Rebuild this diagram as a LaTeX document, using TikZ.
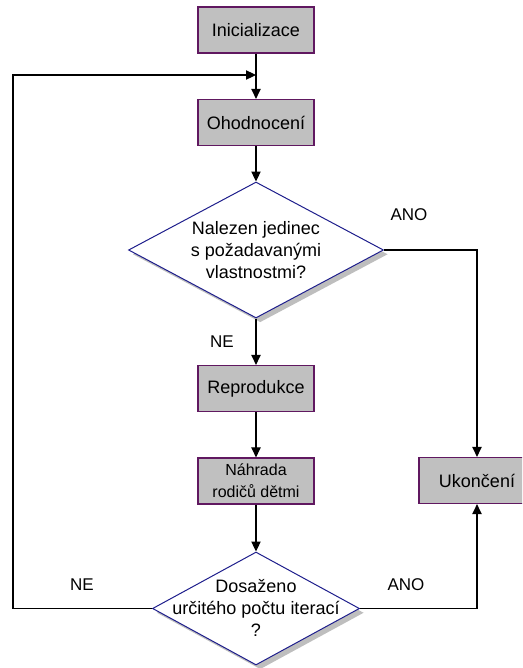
\documentclass[tikz,border=0pt]{standalone}
\usepackage{fontspec}
\setmainfont{Liberation Sans}
\usetikzlibrary{shapes.geometric,arrows.meta,shadows}
\definecolor{boxborder}{RGB}{96,24,96}
\definecolor{boxfill}{RGB}{192,192,192}
\definecolor{diaborder}{RGB}{30,30,140}
\definecolor{shadowgray}{RGB}{190,190,190}
\tikzset{
  procbox/.style={rectangle, draw=boxborder, fill=boxfill, line width=0.9pt,
    minimum width=87pt, minimum height=34.5pt, inner sep=0pt, align=center,
    font=\fontsize{13.5}{16.5}\selectfont},
  decision/.style={diamond, draw=diaborder, fill=white, line width=0.75pt,
    inner sep=0pt,
    drop shadow={shadow xshift=3.2pt, shadow yshift=-3.2pt, fill=shadowgray, opacity=1}},
  dectext/.style={align=center, inner sep=0pt, font=\fontsize{13.5}{16.5}\selectfont},
  lbl/.style={inner sep=0pt, font=\fontsize{12.75}{15}\selectfont},
  conn/.style={line width=0.8pt, draw=black},
  arr/.style={conn, -{Triangle[length=7.5pt,width=7pt]}},
}
\begin{document}
\begin{tikzpicture}[x=0.75pt,y=-0.75pt]
\useasboundingbox (0,0) rectangle (522,668);
\clip (0,0) rectangle (522,668);
\node[procbox] (init) at (256,30) {Inicializace};
\node[procbox] (eval) at (256,122.5) {Ohodnocení};
\node[decision, minimum width=191.25pt, minimum height=102pt] (dec1) at (256,250) {};
\node[dectext] (dec1t) at (256,250) {Nalezen jedinec\\s požadavanými\\vlastnostmi?};
\node[procbox] (repro) at (256,388.5) {Reprodukce};
\node[procbox, font=\fontsize{12}{16.5}\selectfont] (repl) at (256,481) {Náhrada\\rodičů dětmi};
\node[decision, minimum width=155.25pt, minimum height=84.75pt] (dec2) at (256,608.5) {};
\node[dectext, font=\fontsize{13.5}{16.2}\selectfont] (dec2t) at (256,608) {Dosaženo\\určitého počtu iterací\\?};
\node[procbox] (end) at (477,480.5) {Ukončení};

\node[lbl] (ano1) at (409,215) {ANO};
\node[lbl] (ne1) at (222,342) {NE};
\node[lbl] (ano2) at (406,585) {ANO};
\node[lbl] (ne2) at (82,585) {NE};

\coordinate (loopin) at (256,75);
\coordinate (c1) at (477,250);
\coordinate (c2) at (477,608.5);
\coordinate (c3) at (13,608.5);
\coordinate (c4) at (13,75);

\draw[arr] (init.south) -- (eval.north);
\draw[arr] (eval.south) -- (dec1.north);
\draw[arr] (dec1.south) -- (repro.north);
\draw[arr] (repro.south) -- (repl.north);
\draw[arr] (repl.south) -- (dec2.north);
\draw[arr] (dec1.east) -- (c1) -- (end.north);
\draw[arr] (dec2.east) -- (c2) -- (end.south);
\draw[arr] (dec2.west) -- (c3) -- (c4) -- (loopin);
\end{tikzpicture}
\end{document}
